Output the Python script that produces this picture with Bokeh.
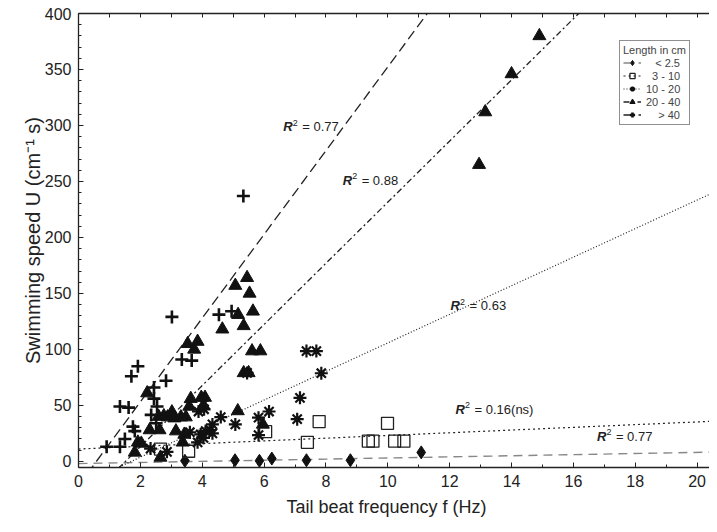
from bokeh.plotting import figure
from bokeh.models import (Range1d, LinearAxis, Legend, LegendItem, Title,
                          SingleIntervalTicker, FixedTicker)
from bokeh.core.properties import value
from bokeh.embed import file_html
from bokeh.resources import INLINE

FONT = "Liberation Sans"

# ---------------- data ----------------
group_labels = ["< 2.5", "3 - 10", "10 - 20", "20 - 40", "> 40"]

lt25_f = [3.44, 5.06, 5.85, 6.25, 7.37, 8.79, 11.08]
lt25_u = [0.5, 1.0, 0.5, 2.5, 1.0, 1.0, 8.0]

c3_10_f = [2.65, 3.56, 6.05, 7.40, 7.78, 9.37, 9.52, 9.99, 10.22, 10.52]
c3_10_u = [11.0, 9.0, 26.5, 17.0, 35.5, 18.0, 18.0, 34.0, 18.0, 18.0]

c10_20_f = [2.33, 2.86, 3.60, 3.85, 3.88, 3.95, 4.04, 4.06, 4.11, 4.25, 4.33, 4.33,
            4.60, 5.07, 5.45, 5.82, 5.82, 6.16, 7.07, 7.16, 7.37, 7.69, 7.85]
c10_20_u = [11.4, 8.5, 26.0, 17.0, 44.5, 24.0, 21.0, 46.5, 27.0, 28.0, 33.0, 25.0,
            39.5, 33.0, 79.0, 39.0, 23.5, 44.5, 37.7, 56.7, 98.5, 98.5, 78.7]

c20_40_f = [1.82, 1.92, 2.03, 2.22, 2.30, 2.59, 2.62, 2.65, 2.76, 2.88, 3.02, 3.10,
            3.15, 3.31, 3.37, 3.42, 3.47, 3.53, 3.58, 3.63, 3.74, 3.85, 3.97, 4.04,
            4.09, 4.65, 5.07, 5.15, 5.16, 5.34, 5.34, 5.45, 5.50, 5.53, 5.61, 5.64,
            5.88, 5.96, 12.95, 13.15, 14.0, 14.9]
c20_40_u = [8.0, 17.0, 16.0, 61.0, 28.0, 40.0, 28.0, 3.5, 40.6, 39.5, 44.0, 38.6,
            27.0, 39.5, 17.0, 24.0, 39.5, 105.0, 49.0, 56.0, 100.0, 107.0, 57.0, 50.0,
            57.0, 118.0, 157.0, 45.0, 131.0, 121.0, 79.0, 164.0, 79.0, 150.0, 98.5, 134.0,
            98.5, 33.0, 265.0, 312.0, 346.0, 380.0]

gt40_f = [0.91, 1.34, 1.34, 1.50, 1.62, 1.71, 1.76, 1.82, 1.92, 2.35, 2.44, 2.44,
          2.51, 2.54, 2.83, 3.02, 3.34, 3.66, 4.54, 4.95, 5.33]
gt40_u = [13.0, 13.0, 49.0, 20.0, 48.0, 76.0, 31.0, 27.0, 85.0, 41.5, 66.0, 56.0,
          34.0, 49.0, 72.0, 129.0, 91.0, 90.0, 131.0, 134.0, 237.0]

# regression lines U = slope * f + intercept
fit_slope = [0.5, 1.21, 12.76, 27.3, 37.4]
fit_intercept = [-2.0, 11.0, -21.8, -41.5, -21.7]
fit_f_range = [0.0, 20.4]

# R^2 annotations
r2_f = [16.76, 12.19, 12.03, 8.54, 6.62]
r2_u = [22.5, 46.5, 139.0, 251.0, 299.0]
r2_text = ["= 0.77", "= 0.16(ns)", "= 0.63", "= 0.88", "= 0.77"]

x_ticks_interval = 2
y_ticks_interval = 50
top_tick_positions = list(range(0, 21))

# ---------------- figure ----------------
p = figure(width=709, height=522, output_backend="svg", toolbar_location=None,
           x_range=Range1d(0, 20.4), y_range=Range1d(-5.5, 400),
           min_border_left=78, min_border_right=0, min_border_top=13,
           min_border_bottom=55, background_fill_color="white",
           border_fill_color="white")
p.grid.visible = False
p.outline_line_color = None

p.xaxis.ticker = SingleIntervalTicker(interval=x_ticks_interval, num_minor_ticks=2)
p.yaxis.ticker = SingleIntervalTicker(interval=y_ticks_interval, num_minor_ticks=5)
p.yaxis.axis_label = "Swimming speed U (cm\u207b\u00b9 s)"

for ax in (p.xaxis[0], p.yaxis[0]):
    ax.axis_line_color = "#222"
    ax.axis_line_width = 1.3
    ax.major_tick_in = 5
    ax.major_tick_out = 0
    ax.minor_tick_in = 3
    ax.minor_tick_out = 0
    ax.major_tick_line_color = "#222"
    ax.minor_tick_line_color = "#222"
    ax.major_label_text_font = FONT
    ax.major_label_text_font_size = "16px"
    ax.major_label_text_color = "#222"
    ax.axis_label_text_font = FONT
    ax.axis_label_text_font_style = "normal"
    ax.axis_label_text_color = "#222"

p.yaxis.axis_label_text_font_size = "20px"
p.xaxis.major_label_standoff = 7
p.yaxis.major_label_standoff = 7
p.yaxis.axis_label_standoff = -2

xlabel = Title(text="Tail beat frequency f (Hz)", align="left", offset=206,
               text_font=FONT, text_font_size="18px", text_font_style="normal",
               text_color="#222", standoff=6, padding=2)
p.add_layout(xlabel, "below")

top = LinearAxis(ticker=FixedTicker(ticks=[], minor_ticks=top_tick_positions),
                 major_label_standoff=0,
                 major_tick_in=0, major_tick_out=0, minor_tick_in=4, minor_tick_out=0,
                 axis_line_color="#222", axis_line_width=1.3,
                 minor_tick_line_color="#222")
p.add_layout(top, "above")

# ---------------- regression lines ----------------
line_styles = [
    dict(line_color="#888888", line_dash="9 6", line_width=1.4),
    dict(line_color="#222222", line_dash="2 3", line_width=1.2),
    dict(line_color="#222222", line_dash="1 2", line_width=1.2),
    dict(line_color="#222222", line_dash="6 3 2 3", line_width=1.3),
    dict(line_color="#222222", line_dash="10 5", line_width=1.3),
]
line_renderers = []
for s, b, st in zip(fit_slope, fit_intercept, line_styles):
    xs = fit_f_range
    ys = [s * x + b for x in xs]
    line_renderers.append(p.line(xs, ys, **st))

# ---------------- points ----------------
marker_renderers = []
marker_renderers.append(p.scatter(lt25_f, lt25_u, marker="diamond", size=13,
                                  fill_color="#111", line_color="#111"))
marker_renderers.append(p.scatter(c3_10_f, c3_10_u, marker="square", size=12,
                                  fill_color=None, line_color="#222", line_width=1.3))
marker_renderers.append(p.scatter(c10_20_f, c10_20_u, marker="asterisk", size=13,
                                  line_color="#111", line_width=2.2))
marker_renderers.append(p.scatter(c20_40_f, c20_40_u, marker="triangle", size=13,
                                  fill_color="#111", line_color="#111"))
marker_renderers.append(p.scatter(gt40_f, gt40_u, marker="cross", size=13,
                                  line_color="#111", line_width=2.6))

# ---------------- R^2 labels ----------------
p.text(r2_f, r2_u, text=["R"] * len(r2_f), text_font=value(FONT),
       text_font_size="13px", text_font_style="bold italic",
       text_baseline="middle", text_color="#222")
p.text(r2_f, r2_u, text=["2"] * len(r2_f), text_font=value(FONT),
       text_font_size="9px", x_offset=9.5, y_offset=-4,
       text_baseline="middle", text_color="#222")
p.text(r2_f, r2_u, text=r2_text, text_font=value(FONT),
       text_font_size="13px", x_offset=19,
       text_baseline="middle", text_color="#222")

# ---------------- legend ----------------
NB = "\u00a0"
pads = [3, 2, 0, 0, 4]
items = [LegendItem(label=NB * n + lab, renderers=[lr, mr])
         for n, lab, lr, mr in zip(pads, group_labels, line_renderers, marker_renderers)]
legend = Legend(items=items, location=(541, 342), title="Length in cm",
                title_text_font=FONT, title_text_font_size="11px",
                title_text_font_style="normal", title_standoff=0,
                label_text_font=FONT, label_text_font_size="11px",
                label_height=13, glyph_height=13, glyph_width=18,
                label_standoff=5, spacing=0, padding=3, margin=0,
                border_line_color="#222", border_line_width=1,
                background_fill_color="white", background_fill_alpha=1)
p.add_layout(legend)

open("out.html", "w").write(file_html(p, INLINE))
